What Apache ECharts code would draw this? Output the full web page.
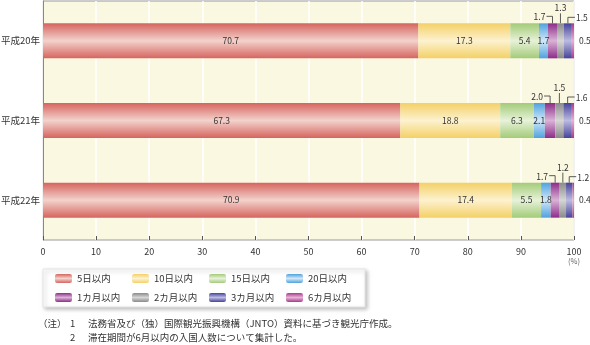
<!DOCTYPE html>
<html>
<head>
<meta charset="utf-8">
<script src="https://cdn.jsdelivr.net/npm/echarts@6/dist/echarts.min.js"></script>
<style>
html,body{margin:0;padding:0;background:#fff;}
#c{width:590px;height:345px;}
</style>
</head>
<body>
<div id="c"></div>
<script>
const categories = ['平成20年', '平成21年', '平成22年'];
const seriesNames = ['5日以内', '10日以内', '15日以内', '20日以内', '1カ月以内', '2カ月以内', '3カ月以内', '6カ月以内'];
const days5 = [70.7, 67.3, 70.9];
const days10 = [17.3, 18.8, 17.4];
const days15 = [5.4, 6.3, 5.5];
const days20 = [1.7, 2.1, 1.8];
const month1 = [1.7, 2.0, 1.7];
const month2 = [1.3, 1.5, 1.2];
const month3 = [1.5, 1.6, 1.2];
const month6 = [0.5, 0.5, 0.4];
const xTicks = [0, 10, 20, 30, 40, 50, 60, 70, 80, 90, 100];
const notes = [
  ['（注）', '1', '法務省及び（独）国際観光振興機構（JNTO）資料に基づき観光庁作成。'],
  ['', '2', '滞在期間が6月以内の入国人数について集計した。']
];

const allData = [days5, days10, days15, days20, month1, month2, month3, month6];
const edge = ['#d6645e', '#f4d066', '#a3cb78', '#4ea2df', '#8d2c89', '#8a8a8a', '#44439a', '#a93a8c'];
const mid  = ['#f3d2cc', '#fcf2cf', '#e7f2d8', '#d2e8f8', '#d9b3d6', '#d6d6d6', '#bdbbe0', '#e6b2d6'];
const FONT = '"Noto Sans CJK JP", "Noto Sans", sans-serif';
const BARW = 35;

function grad(i) {
  return new echarts.graphic.LinearGradient(0, 0, 0, 1, [
    {offset: 0, color: edge[i]},
    {offset: 0.5, color: mid[i]},
    {offset: 1, color: edge[i]}
  ]);
}

function labelFor(i) {
  const base = {show: true, fontSize: 8.5, color: '#333', fontFamily: FONT, formatter: p => p.value.toFixed(1)};
  if (i <= 3) return Object.assign(base, {position: 'inside'});
  if (i === 4) return Object.assign(base, {position: 'top', distance: 2, offset: [-13, 0]});
  if (i === 5) return Object.assign(base, {position: 'top', distance: 11, offset: [0, 0]});
  if (i === 6) return Object.assign(base, {position: 'top', distance: 1, offset: [14, 0]});
  return Object.assign(base, {position: 'right', distance: 5});
}

const series = seriesNames.map((n, i) => ({
  name: n,
  type: 'bar',
  stack: 'total',
  barWidth: BARW,
  data: allData[i],
  itemStyle: {color: grad(i)},
  label: labelFor(i),
  emphasis: {disabled: true},
  animation: false
}));

const chart = echarts.init(document.getElementById('c'), null, {renderer: 'canvas'});
chart.setOption({
  animation: false,
  textStyle: {fontFamily: FONT},
  grid: {left: 43, right: 16, top: 1, bottom: 105, containLabel: false, outerBoundsMode: 'none', show: true, backgroundColor: '#fbf8e2', borderColor: '#9a9a9a', borderWidth: 1},
  xAxis: {
    type: 'value', min: 0, max: 100, interval: 10,
    axisLine: {show: false},
    axisTick: {show: true, inside: true, length: 4, lineStyle: {color: '#555'}},
    splitLine: {show: true, lineStyle: {color: '#ffffff', width: 1.5}},
    axisLabel: {
      fontSize: 9, color: '#333', margin: 7, fontFamily: FONT,
      formatter: v => v === 100 ? '100\n{u|(%)}' : String(v),
      rich: {u: {fontSize: 7.5, color: '#666', lineHeight: 10, fontFamily: FONT}}
    }
  },
  yAxis: {
    type: 'category', data: categories, inverse: true,
    axisLine: {show: true, lineStyle: {color: '#888'}},
    axisTick: {show: false},
    axisLabel: {fontSize: 9.5, color: '#333', margin: 3, fontFamily: FONT}
  },
  legend: {
    left: 43, top: 269,
    width: 320,
    itemWidth: 17, itemHeight: 9,
    itemGap: 0,
    padding: [0, 2, 0, 12],
    backgroundColor: '#ffffff',
    borderColor: '#e4e4e4', borderWidth: 1,
    shadowBlur: 4, shadowColor: 'rgba(0,0,0,0.25)', shadowOffsetX: 2, shadowOffsetY: 2,
    data: seriesNames,
    selectedMode: false,
    textStyle: {fontSize: 9.5, color: '#333', width: 55, height: 19, lineHeight: 19, padding: [0, 0, 0, 0], fontFamily: FONT}
  },
  series: series
});

function buildGraphics() {
  const g = [];
  const lineStyle = {stroke: '#333', lineWidth: 0.8, fill: null};
  categories.forEach((c, r) => {
    const yc = chart.convertToPixel({yAxisIndex: 0}, c);
    const top = yc - BARW / 2;
    const cum4 = days5[r] + days10[r] + days15[r] + days20[r];
    const x1 = chart.convertToPixel({xAxisIndex: 0}, cum4 + month1[r] / 2);
    const x2 = chart.convertToPixel({xAxisIndex: 0}, cum4 + month1[r] + month2[r] / 2);
    const x3 = chart.convertToPixel({xAxisIndex: 0}, cum4 + month1[r] + month2[r] + month3[r] / 2);
    g.push({type: 'polyline', shape: {points: [[x1 - 6, top - 7], [x1, top - 7], [x1, top]]}, style: lineStyle, silent: true});
    g.push({type: 'line', shape: {x1: x2, y1: top - 10, x2: x2, y2: top}, style: lineStyle, silent: true});
    g.push({type: 'polyline', shape: {points: [[x3, top], [x3, top - 6], [x3 + 7, top - 6]]}, style: lineStyle, silent: true});
  });
  notes.forEach((n, k) => {
    const y = 325 + k * 14;
    if (n[0]) g.push({type: 'text', left: 38, top: y - 6, style: {text: n[0], font: '9.5px ' + FONT, fill: '#333'}, silent: true});
    g.push({type: 'text', left: 70, top: y - 6, style: {text: n[1], font: '9.5px ' + FONT, fill: '#333'}, silent: true});
    g.push({type: 'text', left: 88, top: y - 6, style: {text: n[2], font: '9.5px ' + FONT, fill: '#333'}, silent: true});
  });
  chart.setOption({graphic: g});
}
buildGraphics();
</script>
</body>
</html>
